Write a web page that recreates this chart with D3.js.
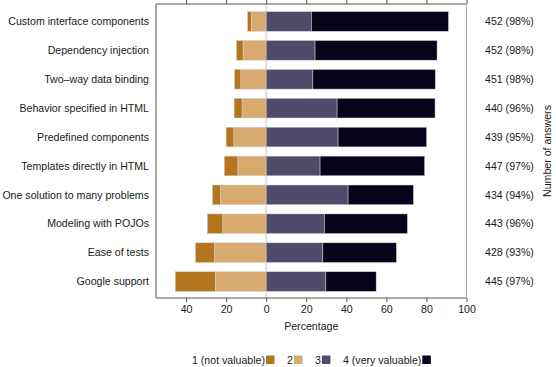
<!DOCTYPE html>
<html>
<head>
<meta charset="utf-8">
<script src="https://cdn.jsdelivr.net/npm/d3@7"></script>
<style>
  body { margin: 0; background: #fff; }
  svg text { font-family: "Liberation Sans", Arial, sans-serif; fill: #1a1a1a; }
</style>
</head>
<body>
<div id="chart"></div>
<script>
// features, top to bottom
const categories = [
  "Custom interface components",
  "Dependency injection",
  "Two\u2013way data binding",
  "Behavior specified in HTML",
  "Predefined components",
  "Templates directly in HTML",
  "One solution to many problems",
  "Modeling with POJOs",
  "Ease of tests",
  "Google support"
];

// percentages per answer level
const notValuable  = [2.0, 3.3, 3.2, 4.0, 3.9, 6.8, 3.9, 7.8, 9.4, 20.1];
const level2       = [7.3, 11.5, 12.6, 12.0, 16.1, 14.1, 22.9, 21.6, 25.9, 25.3];
const level3       = [22.6, 24.4, 23.3, 35.4, 35.9, 26.9, 40.9, 29.1, 28.3, 29.8];
const veryValuable = [68.4, 60.9, 61.1, 48.9, 44.2, 52.2, 32.6, 41.4, 36.7, 25.1];

const answerLabels = ["452 (98%)", "452 (98%)", "451 (98%)", "440 (96%)", "439 (95%)",
                      "447 (97%)", "434 (94%)", "443 (96%)", "428 (93%)", "445 (97%)"];

const legendLabels = ["1 (not valuable)", "2", "3", "4 (very valuable)"];
const colors = ["#b5751c", "#d8aa6f", "#504a6b", "#06041a"];
const xTicks = [-40, -20, 0, 20, 40, 60, 80, 100];

const width = 556, height = 367;
const panel = { left: 156, right: 466.5, top: 4, bottom: 298 };
const fontSize = "10.6px";

const svg = d3.select("#chart").append("svg")
  .attr("width", width)
  .attr("height", height);

const x = d3.scaleLinear().domain([-55, 100]).range([panel.left, panel.right]);
const y = d3.scaleBand().domain(categories).range([7, 296]).paddingInner(0.32).paddingOuter(0.16);

// stacked segments: levels 1,2 go left of zero, 3,4 to the right
let segs = [];
categories.forEach((c, i) => {
  segs.push({ cat: c, k: 0, x0: -(notValuable[i] + level2[i]), x1: -level2[i] });
  segs.push({ cat: c, k: 1, x0: -level2[i], x1: 0 });
  segs.push({ cat: c, k: 2, x0: 0, x1: level3[i] });
  segs.push({ cat: c, k: 3, x0: level3[i], x1: level3[i] + veryValuable[i] });
});

// zero reference line
svg.append("line")
  .attr("x1", x(0)).attr("x2", x(0))
  .attr("y1", panel.top).attr("y2", panel.bottom)
  .attr("stroke", "#d9d9d9")
  .attr("stroke-width", 1.5);

svg.selectAll(".seg")
  .data(segs)
  .enter()
  .append("rect")
  .attr("class", "seg")
  .attr("x", d => x(d.x0))
  .attr("width", d => x(d.x1) - x(d.x0))
  .attr("y", d => y(d.cat))
  .attr("height", y.bandwidth())
  .attr("fill", d => colors[d.k])
  .attr("stroke", "#d0d0d0")
  .attr("stroke-width", 0.5);

// panel frame
svg.append("path")
  .attr("d", `M${panel.right},${panel.top}H${panel.left}V${panel.bottom}H${panel.right}`)
  .attr("fill", "none")
  .attr("stroke", "#555")
  .attr("stroke-width", 1);
svg.append("line")
  .attr("x1", panel.right).attr("x2", panel.right)
  .attr("y1", panel.top).attr("y2", panel.bottom)
  .attr("stroke", "#aaa");

// bottom axis
const xAxis = d3.axisBottom(x).tickValues(xTicks).tickSize(4).tickPadding(3)
  .tickFormat(d => Math.abs(d));
const gx = svg.append("g")
  .attr("transform", "translate(0," + panel.bottom + ")")
  .call(xAxis);
gx.select(".domain").remove();
gx.selectAll(".tick line").attr("stroke", "#555");
gx.selectAll("text").style("font-size", fontSize).attr("fill", "#1a1a1a");

// top ticks, no labels
const gt = svg.append("g")
  .attr("transform", "translate(0," + panel.top + ")")
  .call(d3.axisTop(x).tickValues(xTicks).tickSize(4).tickFormat(""));
gt.select(".domain").remove();
gt.selectAll(".tick line").attr("stroke", "#555");

svg.append("text")
  .attr("x", (panel.left + panel.right) / 2)
  .attr("y", 330)
  .attr("text-anchor", "middle")
  .style("font-size", fontSize)
  .text("Percentage");

// category labels
svg.selectAll(".cat")
  .data(categories)
  .enter()
  .append("text")
  .attr("class", "cat")
  .attr("x", 149)
  .attr("y", d => y(d) + y.bandwidth() / 2)
  .attr("dy", "0.35em")
  .attr("text-anchor", "end")
  .style("font-size", fontSize)
  .text(d => d);

// answer counts on the right
svg.selectAll(".count")
  .data(categories)
  .enter()
  .append("text")
  .attr("class", "count")
  .attr("x", 485)
  .attr("y", d => y(d) + y.bandwidth() / 2)
  .attr("dy", "0.35em")
  .style("font-size", fontSize)
  .text((d, i) => answerLabels[i]);

svg.append("text")
  .attr("transform", "translate(551," + ((panel.top + panel.bottom) / 2) + ") rotate(-90)")
  .attr("text-anchor", "middle")
  .style("font-size", fontSize)
  .text("Number of answers");

// legend
const legendX = [192, 287, 315, 343];
const legend = svg.selectAll(".legend")
  .data(legendLabels)
  .enter()
  .append("g")
  .attr("class", "legend")
  .attr("transform", (d, i) => "translate(" + legendX[i] + ",360)");

legend.append("text")
  .attr("dy", "0.35em")
  .style("font-size", fontSize)
  .text(d => d);

legend.each(function(d, i) {
  const g = d3.select(this);
  const w = g.select("text").node().getComputedTextLength();
  g.append("rect")
    .attr("x", w + 1)
    .attr("y", -4.5)
    .attr("width", 8.5)
    .attr("height", 8.5)
    .attr("fill", colors[i]);
});
</script>
</body>
</html>
